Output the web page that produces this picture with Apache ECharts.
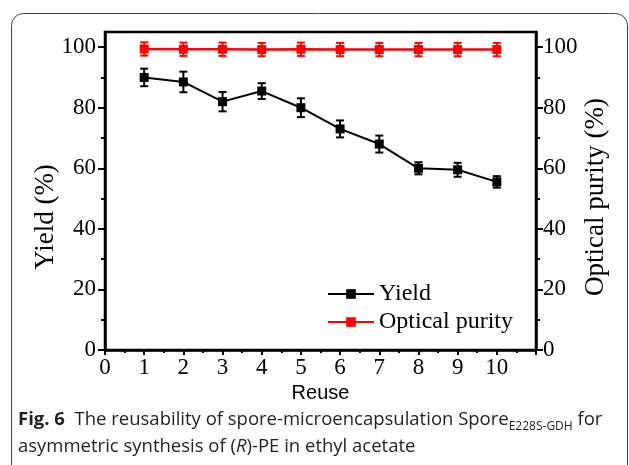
<!DOCTYPE html>
<html>
<head>
<meta charset="utf-8">
<script src="https://cdn.jsdelivr.net/npm/echarts@6/dist/echarts.min.js"></script>
<style>
  html, body { margin: 0; padding: 0; background: #fff; }
  #main { width: 629px; height: 465px; }
</style>
</head>
<body>
<div id="main"></div>
<script>
// data
const reuse = [1, 2, 3, 4, 5, 6, 7, 8, 9, 10];
const yieldVals = [90, 88.5, 82, 85.5, 80, 73, 68, 60, 59.5, 55.5];
const yieldErr = [2.9, 3.4, 3.2, 2.6, 3.1, 2.8, 2.8, 2.0, 2.3, 1.9];
const purityVals = [99.4, 99.3, 99.3, 99.2, 99.3, 99.2, 99.2, 99.2, 99.2, 99.2];
const purityErr = [2.2, 2.2, 2.2, 2.2, 2.2, 2.2, 2.2, 2.2, 2.2, 2.2];
const xTicks = [0, 1, 2, 3, 4, 5, 6, 7, 8, 9, 10];
const yTicks = [0, 20, 40, 60, 80, 100];
const yMinorTicks = [10, 30, 50, 70, 90];

const serif = 'Liberation Serif, Times New Roman, serif';
const capFont = 'Open Sans, Noto Sans, sans-serif';
const black = '#000';

var chartDom = document.getElementById('main');
var myChart = echarts.init(chartDom);

// error bar renderer for custom series
function errorBars(color, lw) {
    return function (params, api) {
        var x = api.value(0), y = api.value(1), e = api.value(2);
        var top = api.coord([x, y + e]);
        var bot = api.coord([x, y - e]);
        var hw = 4;
        var style = { stroke: color, lineWidth: lw };
        return {
            type: 'group',
            children: [
                { type: 'line', shape: { x1: top[0], y1: top[1], x2: bot[0], y2: bot[1] }, style: style },
                { type: 'line', shape: { x1: top[0] - hw, y1: top[1], x2: top[0] + hw, y2: top[1] }, style: style },
                { type: 'line', shape: { x1: bot[0] - hw, y1: bot[1], x2: bot[0] + hw, y2: bot[1] }, style: style }
            ]
        };
    };
}

function mainY(position) {
    return {
        type: 'value', position: position, min: 0, max: 105,
        axisLine: { show: true, lineStyle: { color: black, width: 2.5 } },
        axisTick: { show: true, inside: false, customValues: yTicks, length: 7, lineStyle: { color: black, width: 2 } },
        axisLabel: { customValues: yTicks, margin: position === 'left' ? 9 : 7, fontFamily: serif, fontSize: 23, color: black },
        splitLine: { show: false }
    };
}
function minorY(position) {
    return {
        type: 'value', position: position, min: 0, max: 105,
        axisLine: { show: false },
        axisTick: { show: true, inside: false, customValues: yMinorTicks, length: 4, lineStyle: { color: black, width: 2 } },
        axisLabel: { show: false },
        splitLine: { show: false }
    };
}

var option = {
    animation: false,
    grid: { left: 105, top: 32, right: 93, bottom: 115, show: true, borderColor: black, borderWidth: 2.5 },
    legend: {
        orient: 'vertical', left: 322, top: 277, itemGap: 4,
        itemWidth: 46, itemHeight: 12,
        data: ['Yield', 'Optical purity'],
        textStyle: { fontFamily: serif, fontSize: 24, color: black }
    },
    xAxis: {
        type: 'value', min: 0, max: 11, interval: 1,
        name: 'Reuse', nameLocation: 'middle', nameGap: 32,
        nameTextStyle: { fontFamily: 'Liberation Sans, Arial, sans-serif', fontSize: 20, color: black },
        axisLine: { lineStyle: { color: black, width: 2.5 } },
        axisTick: { inside: false, length: 5, lineStyle: { color: black, width: 2 } },
        minorTick: { show: true, splitNumber: 2, length: 3, lineStyle: { color: black, width: 2 } },
        axisLabel: {
            margin: 6, fontFamily: serif, fontSize: 23, color: black,
            formatter: function (v) { return xTicks.indexOf(v) >= 0 ? String(v) : ''; }
        },
        splitLine: { show: false }
    },
    yAxis: [mainY('left'), minorY('left'), mainY('right'), minorY('right')],
    series: [
        {
            name: 'Yield', type: 'line', yAxisIndex: 0,
            data: reuse.map(function (r, i) { return [r, yieldVals[i]]; }),
            symbol: 'rect', symbolSize: 9,
            lineStyle: { color: black, width: 2 },
            itemStyle: { color: black }, z: 3
        },
        {
            name: 'Optical purity', type: 'line', yAxisIndex: 2,
            data: reuse.map(function (r, i) { return [r, purityVals[i]]; }),
            symbol: 'rect', symbolSize: 9,
            lineStyle: { color: '#ff0000', width: 2.5 },
            itemStyle: { color: '#ff0000' }, z: 3
        },
        {
            name: 'yieldErr', type: 'custom', yAxisIndex: 0,
            renderItem: errorBars(black, 2),
            data: reuse.map(function (r, i) { return [r, yieldVals[i], yieldErr[i]]; }), z: 2
        },
        {
            name: 'purityErr', type: 'custom', yAxisIndex: 2,
            renderItem: errorBars('#ff0000', 2),
            data: reuse.map(function (r, i) { return [r, purityVals[i], purityErr[i]]; }), z: 2
        }
    ],
    graphic: [
        {
            type: 'rect', z: -10, silent: true,
            shape: { x: 11.5, y: 13.5, width: 616, height: 480, r: 12 },
            style: { fill: 'none', stroke: '#444', lineWidth: 1 }
        },
        // axis titles
        {
            type: 'text', x: 46, y: 217, rotation: Math.PI / 2,
            style: { text: 'Yield (%)', fontFamily: serif, fontSize: 27, fill: black, align: 'center', verticalAlign: 'middle' }
        },
        {
            type: 'text', x: 596, y: 197, rotation: Math.PI / 2,
            style: { text: 'Optical purity (%)', fontFamily: serif, fontSize: 27, fill: black, align: 'center', verticalAlign: 'middle' }
        },
        {
            type: 'text', left: 18, top: 406,
            style: {
                text: '{b|Fig. 6}  The reusability of spore-microencapsulation Spore{sub|E228S-GDH} for\nasymmetric synthesis of ({i|R})-PE in ethyl acetate',
                fontFamily: capFont, fontSize: 18.5, lineHeight: 27, fill: '#231f20',
                rich: {
                    b: { fontWeight: 'bold', fontSize: 18.5, fontFamily: capFont, fill: '#231f20' },
                    sub: { fontSize: 12, fontFamily: capFont, verticalAlign: 'bottom', lineHeight: 21, fill: '#231f20' },
                    i: { fontStyle: 'italic', fontSize: 18.5, fontFamily: capFont, fill: '#231f20' }
                }
            }
        }
    ]
};

myChart.setOption(option);
</script>
</body>
</html>
